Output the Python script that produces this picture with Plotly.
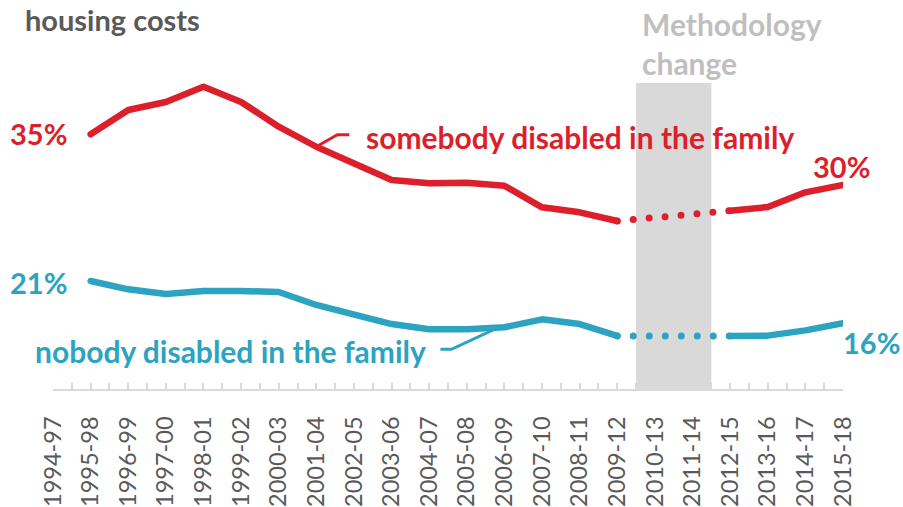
import plotly.graph_objects as go

# ---------------- data ----------------
categories = ["1994-97", "1995-98", "1996-99", "1997-00", "1998-01", "1999-02",
              "2000-03", "2001-04", "2002-05", "2003-06", "2004-07", "2005-08",
              "2006-09", "2007-10", "2008-11", "2009-12", "2010-13", "2011-14",
              "2012-15", "2013-16", "2014-17", "2015-18"]

somebody_disabled = [None, 34.97, 37.35, 38.14, 39.64, 38.14, 35.72, 33.75, 32.13,
                     30.49, 30.17, 30.23, 29.93, 27.81, 27.32, 26.47, None, None,
                     27.48, 27.84, 29.28, 30.0]

nobody_disabled = [None, 20.59, 19.77, 19.31, 19.61, 19.61, 19.51, 18.24, 17.35,
                   16.37, 15.85, 15.85, 16.05, 16.83, 16.37, 15.20, None, None,
                   15.20, 15.23, 15.75, 16.45]

methodology_change = ["2010-13", "2011-14"]

# ---------------- style ----------------
RED = "#DC1F2A"
BLUE = "#2CA3C1"
GREY_TXT = "#595959"
BAND = "#D9D9D9"
FONT = "Lato"
SIZE = 29
SIZE_LONG = 30

xs = list(range(len(categories)))


def bridge(vals):
    """Indices of last value before and first value after the gap."""
    gap = [i for i, v in enumerate(vals) if v is None and i > 0]
    a, b = gap[0] - 1, gap[-1] + 1
    return [xs[a], xs[b]], [vals[a], vals[b]]


fig = go.Figure()

for vals, col in [(somebody_disabled, RED), (nobody_disabled, BLUE)]:
    fig.add_trace(go.Scatter(x=xs, y=vals, mode="lines",
                             line=dict(color=col, width=6.5),
                             connectgaps=False, hoverinfo="skip",
                             showlegend=False))
    bx, by = bridge(vals)
    fig.add_trace(go.Scatter(x=bx, y=by, mode="lines",
                             line=dict(color=col, width=7, dash="0px,16px"),
                             hoverinfo="skip", showlegend=False))

# methodology band
i0 = categories.index(methodology_change[0])
i1 = categories.index(methodology_change[-1])
fig.add_shape(type="rect", xref="x", yref="paper", x0=i0 - 0.5, x1=i1 + 0.5,
              y0=0, y1=1, fillcolor=BAND, line=dict(width=0), layer="below")

# leader lines
i_red = categories.index("2001-04")
i_blue = categories.index("2006-09")
fig.add_shape(type="path", xref="x", yref="y", xsizemode="pixel", ysizemode="pixel",
              xanchor=i_red, yanchor=somebody_disabled[i_red],
              path="M0,0 L21,12 L33,12", line=dict(color=RED, width=3))
fig.add_shape(type="path", xref="x", yref="y", xsizemode="pixel", ysizemode="pixel",
              xanchor=i_blue, yanchor=nobody_disabled[i_blue],
              path="M-64,-22 L-53,-22 L-8,-1", line=dict(color=BLUE, width=3))


def ann(text, color, size=SIZE, **kw):
    fig.add_annotation(text=text, showarrow=False,
                       font=dict(family=FONT, size=size, color=color, weight="bold"),
                       **kw)


first = 1
last = len(categories) - 1
ann("housing costs", GREY_TXT, xref="paper", yref="paper", x=0, y=1,
    xanchor="left", yanchor="middle", xshift=-30, yshift=64)
ann(f"{round(somebody_disabled[first])}%", RED, x=first, y=somebody_disabled[first],
    xanchor="right", yanchor="middle", xshift=-22, yshift=1)
ann(f"{round(nobody_disabled[first])}%", BLUE, x=first, y=nobody_disabled[first],
    xanchor="right", yanchor="middle", xshift=-22, yshift=-2)
ann(f"{round(somebody_disabled[last])}%", RED, x=last, y=somebody_disabled[last],
    xanchor="center", yanchor="middle", xshift=-2, yshift=19)
ann(f"{round(nobody_disabled[last])}%", BLUE, x=last, y=nobody_disabled[last],
    xanchor="left", yanchor="middle", xshift=-2, yshift=-19)
ann("somebody disabled in the family", RED, size=SIZE_LONG,
    x=i_red, y=somebody_disabled[i_red],
    xanchor="left", yanchor="middle", xshift=48, yshift=10)
ann("nobody disabled in the family", BLUE, size=SIZE_LONG,
    x=i_blue, y=nobody_disabled[i_blue],
    xanchor="right", yanchor="middle", xshift=-76, yshift=-24)
ann("Methodology", "#BFBFBF", size=SIZE_LONG, xref="x", yref="paper", x=i0 - 0.5, y=1,
    xanchor="left", yanchor="middle", xshift=4, yshift=59)
ann("change", "#BFBFBF", size=SIZE_LONG, xref="x", yref="paper", x=i0 - 0.5, y=1,
    xanchor="left", yanchor="middle", xshift=4, yshift=20)

fig.update_layout(
    width=903, height=507,
    margin=dict(l=53, r=60, t=83, b=118, pad=0, autoexpand=False),
    plot_bgcolor="white", paper_bgcolor="white",
    xaxis=dict(range=[xs[0], xs[-1]], tickmode="array", tickvals=xs,
               ticktext=categories, tickangle=-90, showgrid=False, zeroline=False,
               showline=True, linecolor=BAND, linewidth=2, automargin=False,
               ticks="inside", ticklen=6, tickcolor=BAND, tickwidth=1.5,
               minor=dict(tickmode="array", tickvals=[x + 0.5 for x in xs[:-1]],
                          ticks="inside", ticklen=6, tickcolor=BAND, tickwidth=1.5,
                          showgrid=False),
               ticklabelstandoff=16,
               tickfont=dict(family=FONT, size=23.5, color=GREY_TXT),
               fixedrange=True),
    yaxis=dict(range=[10, 40], visible=False, fixedrange=True, automargin=False),
    showlegend=False,
)

post = """
document.body.style.margin='0';
var gd=document.getElementById('{plot_id}');
gd.querySelectorAll('.scatterlayer path.js-line').forEach(function(p){
  p.style.strokeLinecap='round'; p.style.strokeLinejoin='round';
});
"""
fig.write_html("out.html", post_script=post, config={"displayModeBar": False})
